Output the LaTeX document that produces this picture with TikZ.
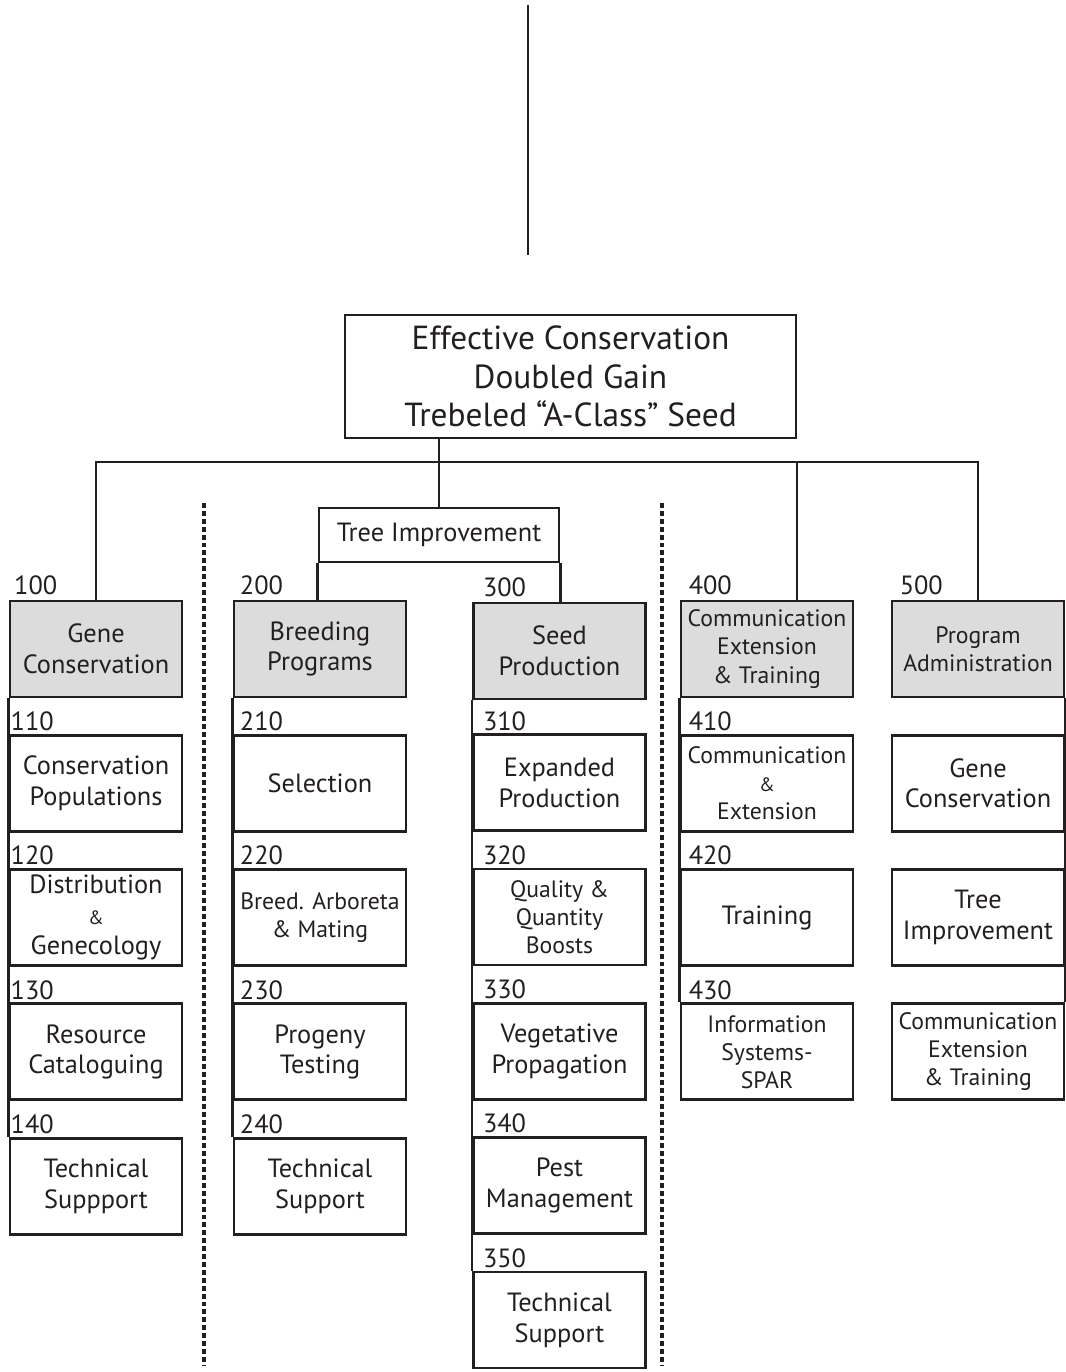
\documentclass[tikz,border=0pt]{standalone}
\usepackage{fontspec}
\setmainfont{PT Sans}
\usepackage{xcolor}
\usetikzlibrary{positioning}
\definecolor{ink}{HTML}{231F20}
\definecolor{shade}{HTML}{DCDCDC}
\newcommand{\smallamp}{{\fontsize{11}{12}\selectfont\&}}

\begin{document}
\begin{tikzpicture}[x=0.02cm, y=-0.02cm, node distance=0.71cm]
    \tikzstyle{cbox}=[rectangle, draw=ink, line width=1.6pt, minimum width=3.44cm,
                      minimum height=1.92cm, align=center, inner sep=1pt, text=ink,
                      font=\fontsize{15}{17.5}\selectfont]
    \tikzstyle{hbox}=[cbox, fill=shade]
    \tikzstyle{tight}=[font=\fontsize{13.5}{16}\selectfont]
    \tikzstyle{num}=[inner sep=0pt, text=ink, font=\fontsize{15}{15}\selectfont]
    \tikzstyle{link}=[draw=ink, line width=1.3pt]
    \tikzstyle{divider}=[draw=ink, line width=2.4pt, dash pattern=on 2.8pt off 1.7pt]

    \useasboundingbox (0,0) rectangle (1065,1372);

    \node[cbox, minimum width=9.02cm, minimum height=2.46cm,
          font=\fontsize{19}{22}\selectfont] (goal) at (570.5,376.5)
          {Effective Conservation\\Doubled Gain\\Trebeled “A-Class” Seed};
    \node[cbox, minimum width=4.8cm, minimum height=1.08cm] (ti) at (439,535) {Tree Improvement};

    \node[hbox] (g100) at (96,649) {Gene\\Conservation};
    \node[cbox, below=of g100] (g110) {Conservation\\Populations};
    \node[cbox, below=of g110] (g120) {Distribution\\\smallamp\\Genecology};
    \node[cbox, below=of g120] (g130) {Resource\\Cataloguing};
    \node[cbox, below=of g130] (g140) {Technical\\Suppport};

    \node[hbox] (g200) at (320,649) {Breeding\\Programs};
    \node[cbox, below=of g200] (g210) {Selection};
    \node[cbox, tight, below=of g210] (g220) {Breed. Arboreta\\\& Mating};
    \node[cbox, below=of g220] (g230) {Progeny\\Testing};
    \node[cbox, below=of g230] (g240) {Technical\\Support};

    \node[hbox] (g300) at (559.5,651) {Seed\\Production};
    \node[cbox, below=0.66cm of g300] (g310) {Expanded\\Production};
    \node[cbox, tight, below=of g310] (g320) {Quality \&\\Quantity\\Boosts};
    \node[cbox, below=of g320] (g330) {Vegetative\\Propagation};
    \node[cbox, below=of g330] (g340) {Pest\\Management};
    \node[cbox, below=of g340] (g350) {Technical\\Support};

    \node[hbox, tight] (g400) at (767,649) {Communication\\Extension\\\& Training};
    \node[cbox, tight, below=of g400] (g410) {Communication\\\smallamp\\Extension};
    \node[cbox, below=of g410] (g420) {Training};
    \node[cbox, tight, below=of g420] (g430) {Information\\Systems-\\SPAR};

    \node[hbox, tight] (g500) at (978,649) {Program\\Administration};
    \node[cbox, below=of g500] (p510) {Gene\\Conservation};
    \node[cbox, below=of p510] (p520) {Tree\\Improvement};
    \node[cbox, tight, below=of p520] (p530) {Communication\\Extension\\\& Training};

    \node[num, above right=2.5pt and 3pt of g100.north west] (n100) {100};
    \node[num, above right=1.5pt and 1pt of g110.north west] (n110) {110};
    \node[num, above right=1.5pt and 1pt of g120.north west] (n120) {120};
    \node[num, above right=1.5pt and 1pt of g130.north west] (n130) {130};
    \node[num, above right=1.5pt and 1pt of g140.north west] (n140) {140};
    \node[num, above right=2.5pt and 4pt of g200.north west] (n200) {200};
    \node[num, above right=1.5pt and 4pt of g210.north west] (n210) {210};
    \node[num, above right=1.5pt and 4pt of g220.north west] (n220) {220};
    \node[num, above right=1.5pt and 4pt of g230.north west] (n230) {230};
    \node[num, above right=1.5pt and 4pt of g240.north west] (n240) {240};
    \node[num, above right=2.5pt and 6pt of g300.north west] (n300) {300};
    \node[num, above right=1.5pt and 6pt of g310.north west] (n310) {310};
    \node[num, above right=1.5pt and 6pt of g320.north west] (n320) {320};
    \node[num, above right=1.5pt and 6pt of g330.north west] (n330) {330};
    \node[num, above right=1.5pt and 6pt of g340.north west] (n340) {340};
    \node[num, above right=1.5pt and 6pt of g350.north west] (n350) {350};
    \node[num, above right=2.5pt and 5pt of g400.north west] (n400) {400};
    \node[num, above right=1.5pt and 5pt of g410.north west] (n410) {410};
    \node[num, above right=1.5pt and 5pt of g420.north west] (n420) {420};
    \node[num, above right=1.5pt and 5pt of g430.north west] (n430) {430};
    \node[num, above right=2.5pt and 5pt of g500.north west] (n500) {500};

    \coordinate (stemtop) at (528,5);
    \coordinate (stembot) at (528,255);
    \coordinate (bus) at (440,462);
    \coordinate (drop4) at (797,462);
    \coordinate (d1a) at (204,503);
    \coordinate (d1b) at (204,1365);
    \coordinate (d2a) at (662,503);
    \coordinate (d2b) at (662,1365);

    \draw[link] (stemtop) -- (stembot);
    \draw[link] (ti.north |- goal.south) -- (ti.north);
    \draw[link] (g100.north) -- (g100.north |- bus) -- (g500.north |- bus) -- (g500.north);
    \draw[link] (drop4) -- (drop4 |- g400.north);
    \draw[link] (ti.south west) -- (ti.south west |- g200.north);
    \draw[link] (ti.south east) -- (ti.south east |- g300.north);

    \draw[link] (g100.south west) -- (g140.north west);
    \draw[link] (g200.south west) -- (g240.north west);
    \draw[link] (g300.south west) -- (g350.north west);
    \draw[link] (g400.south west) -- (g430.north west);
    \draw[link] (g500.south east) -- (p530.north east);

    \draw[divider] (d1a) -- (d1b);
    \draw[divider] (d2a) -- (d2b);
\end{tikzpicture}
\end{document}
